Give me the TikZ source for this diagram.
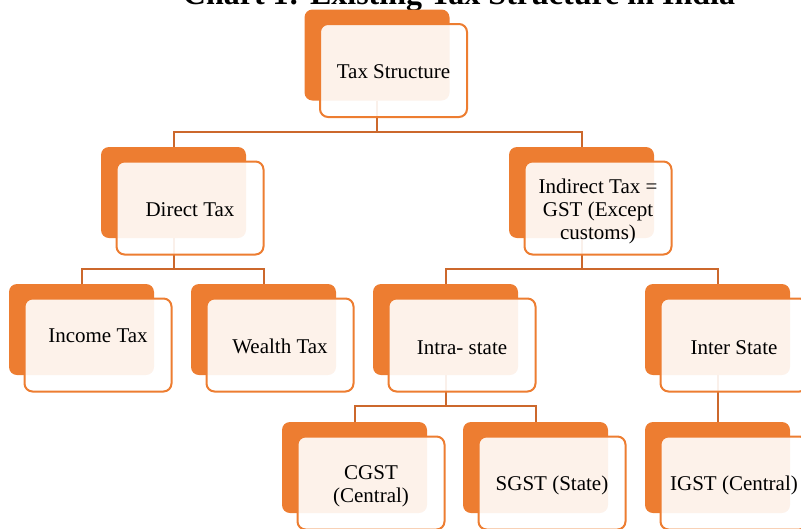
\documentclass[tikz,border=0pt]{standalone}
\usepackage{fontspec}
\setmainfont{Liberation Serif}
\definecolor{acc}{RGB}{237,125,49}
\definecolor{connc}{RGB}{204,104,44}
\begin{document}
\begin{tikzpicture}[x=1pt,y=-1pt,
  backbox/.style={rectangle,rounded corners=8pt,fill=acc,minimum width=145pt,minimum height=91pt,inner sep=0pt,outer sep=0pt,anchor=north west},
  frontbox/.style={rectangle,rounded corners=8pt,draw=acc,line width=2pt,fill=white,fill opacity=0.9,minimum width=147pt,minimum height=93pt,inner sep=0pt,outer sep=0pt,anchor=north west},
  lbl/.style={font=\fontsize{21}{23}\selectfont,align=center,inner sep=0pt,text=black},
  conn/.style={draw=connc,line width=2pt}]
\useasboundingbox (0,0) rectangle (801,528);
\node[font=\bfseries\fontsize{32}{36}\selectfont,anchor=base,inner sep=0pt] (title) at (459,4) {Chart 1: Existing Tax Structure in India};
% back boxes
\foreach \n/\x/\y in {top/304.5/9.5, direct/101/147, indirect/509/147, income/9/284, wealth/191/284, intra/373/284, inter/645/284, cgst/282/422, sgst/463/422, igst/645/422}{
  \node[backbox] (b\n) at (\x,\y) {};
}
% connectors
\draw[conn] (bdirect.north) -- ++(0,15pt) coordinate (j1) -| (bindirect.north);
\draw[conn] (btop.south) -- (btop.south |- j1);
\draw[conn] (bincome.north) -- ++(0,15pt) coordinate (j2) -| (bwealth.north);
\draw[conn] (bdirect.south) -- (bdirect.south |- j2);
\draw[conn] (bintra.north) -- ++(0,15pt) coordinate (j3) -| (binter.north);
\draw[conn] (bindirect.south) -- (bindirect.south |- j3);
\draw[conn] (bcgst.north) -- ++(0,16pt) coordinate (j4) -| (bsgst.north);
\draw[conn] (bintra.south) -- (bintra.south |- j4);
\draw[conn] (binter.south) -- (bigst.north);
% front boxes
\foreach \n/\x/\y in {top/304.5/9.5, direct/101/147, indirect/509/147, income/9/284, wealth/191/284, intra/373/284, inter/645/284, cgst/282/422, sgst/463/422, igst/645/422}{
  \node[frontbox] (f\n) at (\x+15.5,\y+14.5) {};
}
% labels
\node[lbl] (ttop) at ([yshift=-1.5pt]ftop.center) {Tax Structure};
\node[lbl] (tdirect) at ([yshift=-1.5pt]fdirect.center) {Direct Tax};
\node[lbl] (tindirect) at ([yshift=-3pt]findirect.center) {Indirect Tax =\\GST (Except\\customs)};
\node[lbl] (tincome) at ([yshift=9pt]fincome.center) {Income Tax};
\node[lbl] (twealth) at ([yshift=-1.5pt]fwealth.center) {Wealth Tax};
\node[lbl] (tintra) at ([yshift=-2.5pt]fintra.center) {Intra- state};
\node[lbl] (tinter) at ([yshift=-2.5pt]finter.center) {Inter State};
\node[lbl] (tcgst) at ([yshift=-3pt]fcgst.center) {CGST\\(Central)};
\node[lbl] (tsgst) at ([yshift=-2pt]fsgst.center) {SGST (State)};
\node[lbl] (tigst) at ([yshift=-2pt]figst.center) {IGST (Central)};
\end{tikzpicture}
\end{document}
